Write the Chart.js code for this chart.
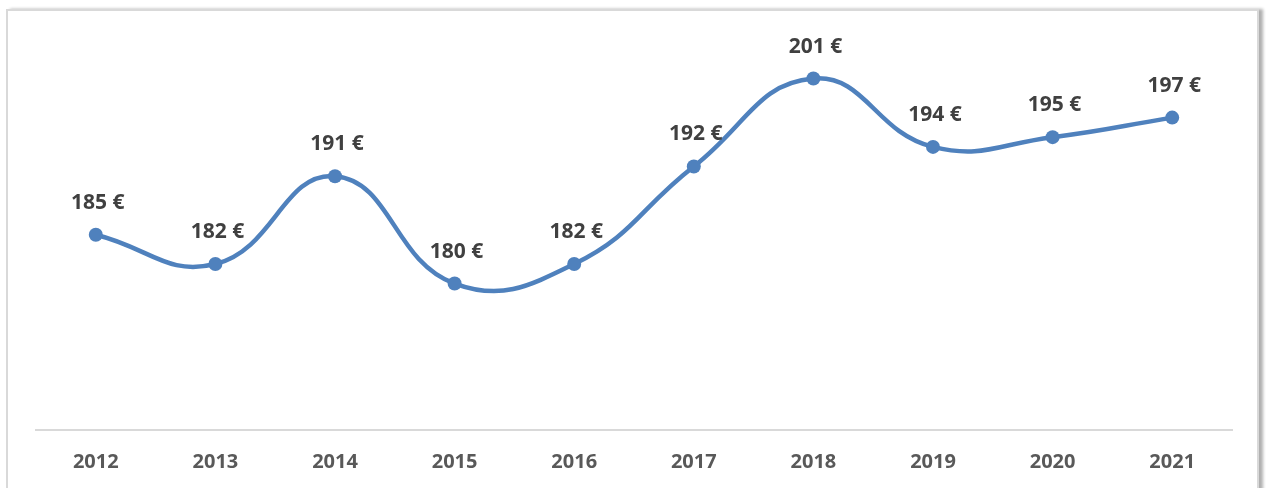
<!DOCTYPE html>
<html>
<head>
<meta charset="utf-8">
<script src="https://cdn.jsdelivr.net/npm/chart.js@4"></script>
<style>
  html, body { margin: 0; padding: 0; background: #fff; overflow: hidden; }
  #wrap { position: relative; width: 1268px; height: 488px; }
  #frame {
    position: absolute; left: 6px; top: 9px; width: 1249px; height: 500px;
    border: 2px solid #d9d9d9; box-shadow: 4px 0 3px #b0b0b0;
  }
  canvas { position: absolute; left: 0; top: 0; }
</style>
</head>
<body>
<div id="wrap">
  <div id="frame"></div>
  <canvas id="priceChart" width="1268" height="488"></canvas>
</div>
<script>
const years = ["2012", "2013", "2014", "2015", "2016", "2017", "2018", "2019", "2020", "2021"];
const prices = [185, 182, 191, 180, 182, 192, 201, 194, 195, 197];

const lineColor = "#4f81bd";
const fontFamily = "'Open Sans', 'Liberation Sans', sans-serif";

// writes "<value> €" above every point
const valueLabels = {
  id: "valueLabels",
  afterDatasetsDraw(chart) {
    const ctx = chart.ctx;
    const meta = chart.getDatasetMeta(0);
    ctx.save();
    ctx.font = "bold 21px " + fontFamily;
    ctx.fillStyle = "#404040";
    ctx.textAlign = "center";
    ctx.textBaseline = "middle";
    meta.data.forEach((pt, i) => {
      ctx.fillText(prices[i] + " €", pt.x + 2, pt.y - 32);
    });
    ctx.restore();
  }
};

new Chart(document.getElementById("priceChart"), {
  type: "line",
  data: {
    labels: years,
    datasets: [{
      data: prices,
      borderColor: lineColor,
      backgroundColor: lineColor,
      borderWidth: 4.5,
      tension: 0.45,
      pointRadius: 7,
      pointHoverRadius: 7,
      pointBackgroundColor: lineColor,
      pointBorderWidth: 0
    }]
  },
  options: {
    responsive: false,
    animation: false,
    layout: { padding: { left: 36, right: 36, top: 20, bottom: 0 } },
    plugins: {
      legend: { display: false },
      tooltip: { enabled: false }
    },
    scales: {
      x: {
        offset: true,
        grid: { display: false, drawTicks: false },
        border: { display: true, color: "#d9d9d9", width: 2 },
        ticks: {
          color: "#595959",
          font: { family: fontFamily, size: 20, weight: "bold" },
          padding: 20,
          maxRotation: 0
        },
        afterFit(scale) { scale.height = 58; }
      },
      y: {
        display: false,
        min: 165,
        max: 207
      }
    }
  },
  plugins: [valueLabels]
});
</script>
</body>
</html>
